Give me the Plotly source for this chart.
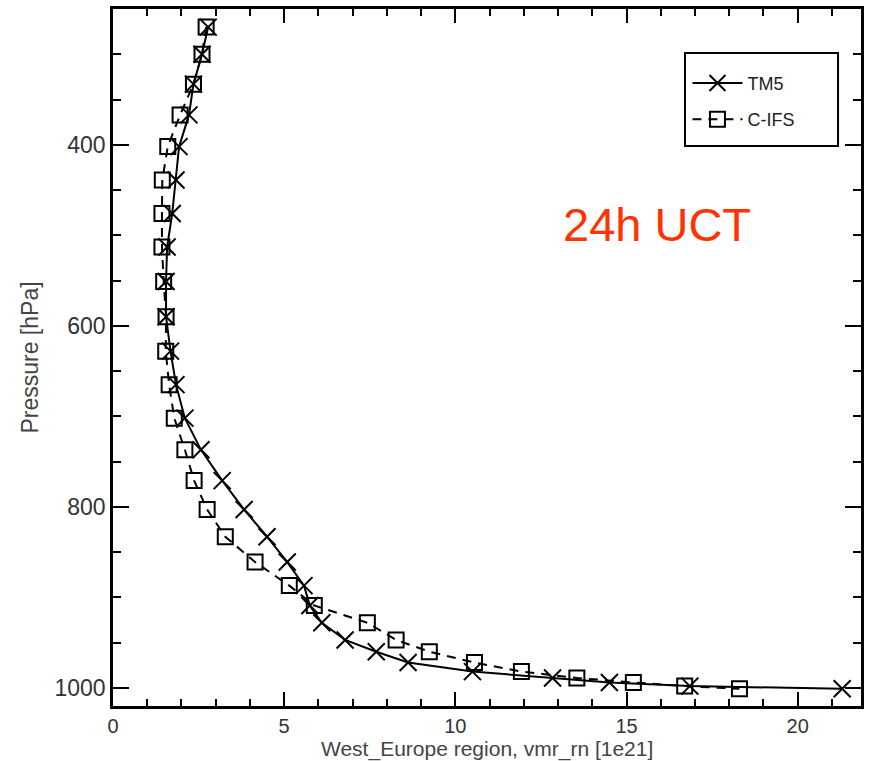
import plotly.graph_objects as go

# Pressure levels (hPa)
pressure = [270, 300, 333, 367, 402, 439, 476, 513, 551, 590, 628, 665, 702, 737,
            771, 803, 833, 861, 887, 909, 928, 947, 960, 972, 982, 989, 994, 998, 1001]

# vmr_rn [1e21], West Europe region
tm5 = [2.78, 2.6, 2.35, 2.22, 1.93, 1.84, 1.73, 1.58, 1.55, 1.55, 1.68, 1.84, 2.1, 2.57,
       3.19, 3.83, 4.5, 5.09, 5.58, 5.75, 6.1, 6.78, 7.69, 8.62, 10.5, 12.84, 14.5, 16.85, 21.3]
cifs = [2.72, 2.6, 2.35, 1.96, 1.6, 1.44, 1.43, 1.43, 1.48, 1.55, 1.54, 1.64, 1.79, 2.1,
        2.37, 2.75, 3.28, 4.15, 5.15, 5.88, 7.43, 8.27, 9.24, 10.56, 11.93, 13.55, 15.2, 16.7, 18.3]

series_names = ["TM5", "C-IFS"]
y_ticks = [400, 600, 800, 1000]
x_ticks = [0, 5, 10, 15, 20]
x_title = "West_Europe region, vmr_rn [1e21]"
y_title = "Pressure [hPa]"

FONT = "Liberation Sans, Arial, sans-serif"

fig = go.Figure()
fig.add_trace(go.Scatter(
    x=tm5, y=pressure, name=series_names[0], mode="lines+markers", legendgroup="g1",
    line=dict(color="black", width=2),
    marker=dict(symbol="x-thin-open", size=17, color="black", line=dict(color="black", width=2)),
))
fig.add_trace(go.Scatter(
    x=cifs, y=pressure, name=series_names[1], mode="lines+markers", legendgroup="g2",
    line=dict(color="black", width=2, dash="9px,7px"),
    marker=dict(symbol="square-open", size=15, color="black", line=dict(color="black", width=2)),
))

fig.add_annotation(x=15.9, y=488, xref="x", yref="y", text="24h UCT", showarrow=False,
                   font=dict(family=FONT, size=47, color="#FF3300"))

# x axis title placed below the tick labels
fig.add_annotation(x=0.5, y=-0.062, xref="paper", yref="paper", text=x_title,
                   showarrow=False, xanchor="center", yanchor="middle",
                   font=dict(family=FONT, size=21, color="#444"))

# legend frame
fig.add_shape(type="rect", xref="paper", yref="paper",
              x0=0.7647, x1=0.9693, y0=0.8034, y1=0.9369,
              line=dict(color="black", width=2), fillcolor="rgba(0,0,0,0)", layer="above")

fig.update_layout(
    width=876, height=761,
    margin=dict(l=113, r=15, t=9, b=55),
    plot_bgcolor="white", paper_bgcolor="white",
    font=dict(family=FONT, color="#333"),
    legend=dict(x=0.768, y=0.92, xanchor="left", yanchor="top",
                borderwidth=0, bgcolor="rgba(0,0,0,0)", tracegroupgap=10,
                font=dict(family=FONT, size=18, color="#222"),
                itemwidth=50),
    showlegend=True,
)

fig.update_xaxes(
    range=[0, 21.85], tickvals=x_ticks, ticktext=[str(v) for v in x_ticks],
    ticks="inside", ticklen=14, tickwidth=2, tickcolor="black",
    showline=True, linecolor="black", linewidth=2.5, mirror="ticks",
    showgrid=False, zeroline=False, automargin=False,
    tickfont=dict(family=FONT, size=20, color="#333"),
    minor=dict(dtick=1, tick0=0, ticks="inside", ticklen=7, tickwidth=2, tickcolor="black", showgrid=False),
)
fig.update_yaxes(
    range=[1020, 250], tickvals=y_ticks, ticktext=[str(v) for v in y_ticks],
    ticks="inside", ticklen=16, tickwidth=2, tickcolor="black",
    showline=True, linecolor="black", linewidth=2.5, mirror="ticks",
    showgrid=False, zeroline=False, automargin=False,
    tickfont=dict(family=FONT, size=23, color="#333"),
    minor=dict(dtick=50, tick0=0, ticks="inside", ticklen=8, tickwidth=2, tickcolor="black", showgrid=False),
    title=dict(text=y_title, standoff=10,
               font=dict(family=FONT, size=23, color="#444")),
)

fig.write_html("out.html")
